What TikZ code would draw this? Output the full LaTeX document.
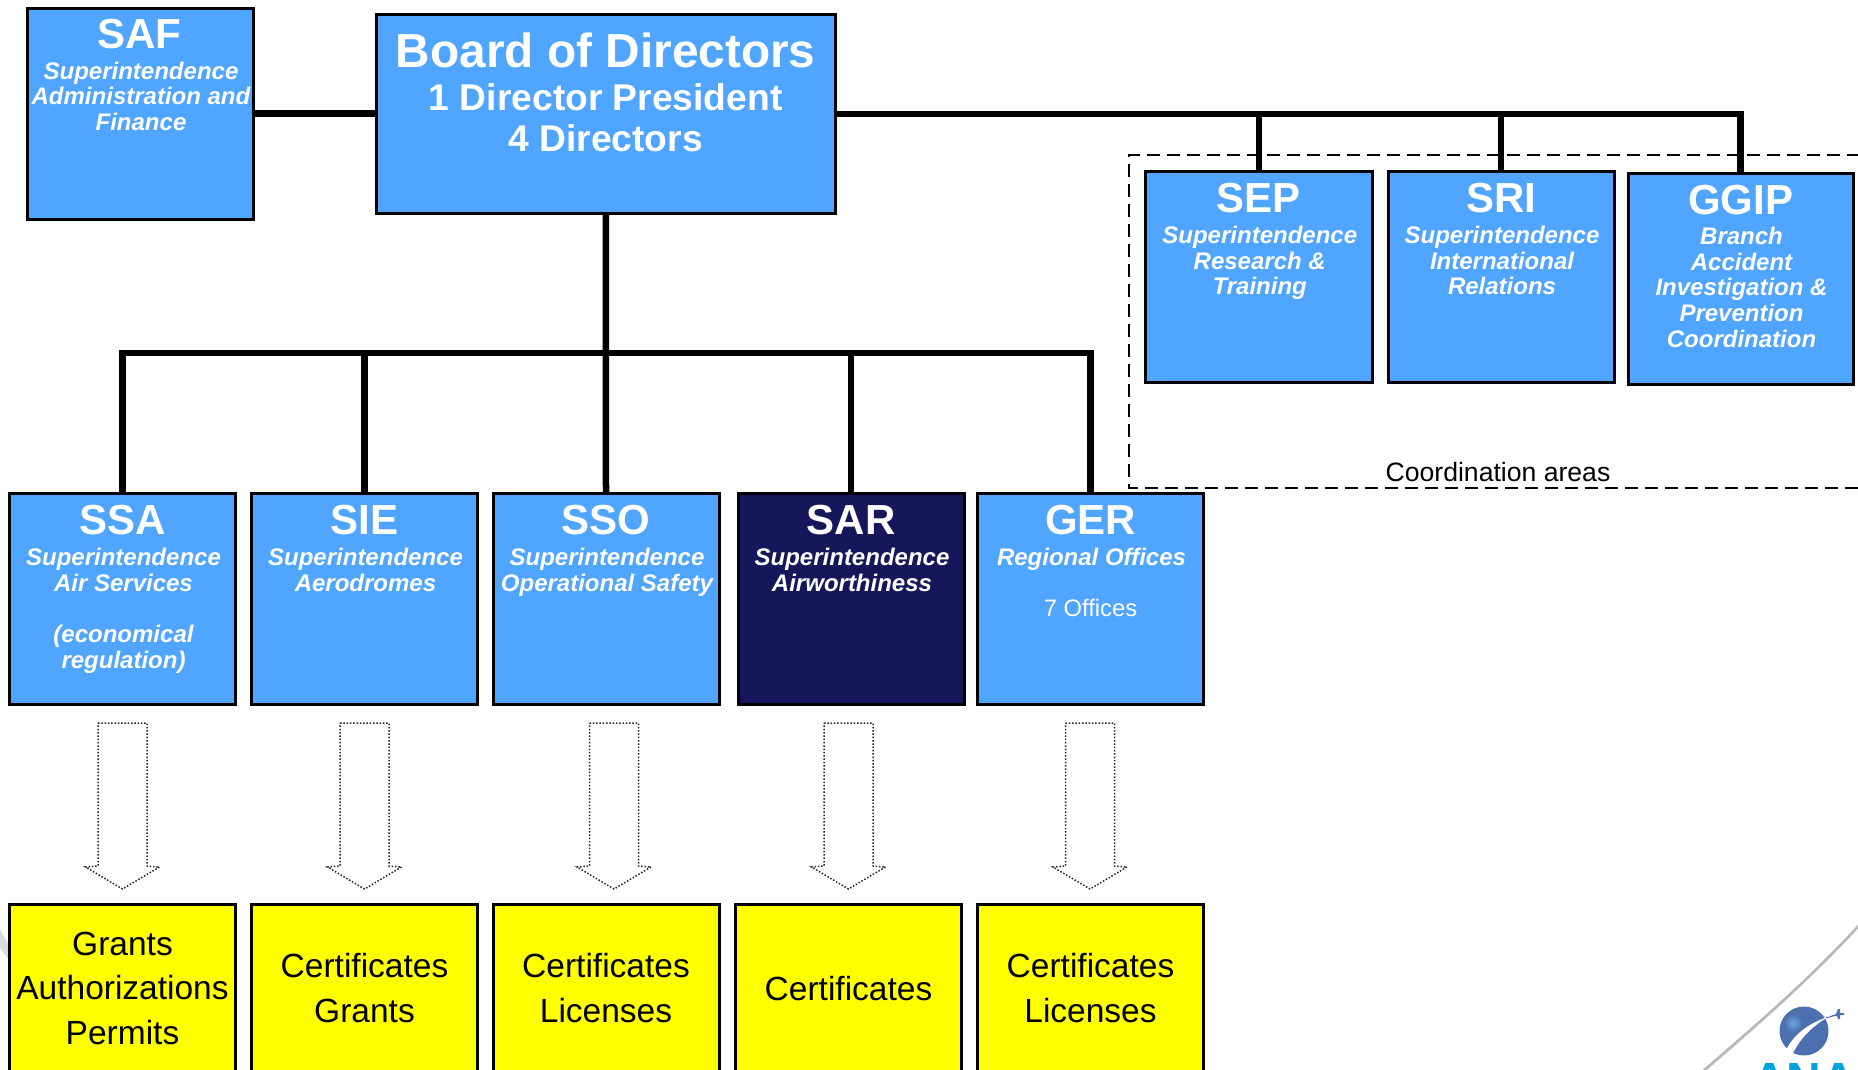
\documentclass[tikz,border=0pt]{standalone}
\usepackage{fontspec}
\setmainfont{Liberation Sans}
\definecolor{orgblue}{HTML}{4FA5FF}
\definecolor{orgnavy}{HTML}{16165A}
\definecolor{globeblue}{HTML}{4C6FB0}
\definecolor{globelight}{HTML}{6FA8DC}
\definecolor{anaccyan}{HTML}{00A3DD}
\definecolor{pureyellow}{RGB}{255,255,0}
\newcommand{\ttl}{\fontsize{42}{42}\selectfont\bfseries}
\newcommand{\subt}{\fontsize{24}{25.6}\selectfont\bfseries\itshape}
\newcommand{\topfix}{\rule{0pt}{20pt}}
\newcommand{\orgbx}[6]{\node[#6,minimum width={(#4-#2)*1pt},minimum height={(#5-#3)*1pt}] (#1) at ({(#2+#4)/2},{(#3+#5)/2}) {};}
\newcommand{\dotarrow}[1]{\draw[arrowline] (#1-24.5,723) -- (#1+24.5,723) -- (#1+24.5,866) -- (#1+37,867) -- (#1,889) -- (#1-37,867) -- (#1-24.5,866) -- cycle;}
\tikzset{
  orgbase/.style={draw=black,line width=3pt,inner sep=0pt,outer sep=0pt},
  bluebox/.style={orgbase,fill=orgblue},
  navybox/.style={orgbase,fill=orgnavy},
  yellowbox/.style={orgbase,fill=pureyellow},
  yellowtext/.style={anchor=center,inner sep=0pt,align=center,text=black,font=\fontsize{33.5}{44.5}\selectfont},
  titletext/.style={anchor=base,inner sep=0pt,text=white,font=\ttl},
  subtext/.style={anchor=north,inner sep=0pt,text=white,align=center,font=\subt},
  link/.style={line width=6.5pt,draw=black},
  arrowline/.style={line width=1.5pt,draw=black!85,dash pattern=on 1.5pt off 1.8pt},
  coordbox/.style={line width=2pt,draw=black,dash pattern=on 13pt off 7pt}
}
\begin{document}
\begin{tikzpicture}[x=1pt,y=-1pt]
\useasboundingbox (0,0) rectangle (1858,1069);
\clip (0,0) rectangle (1858,1069);
% background swoosh
\foreach \i/\g in {0/1,1/2,2/3,3/4,4/5,5/6,6/8,7/10,8/12,9/14,10/16,11/19,12/22,13/25,14/28}{
  \draw[line width=2pt,draw=black!\g,xshift=\i*0.9pt-12.6pt,yshift=\i*0.9pt-12.6pt]
    (1695,1078) .. controls (1750,1030) and (1810,980) .. (1866,918);
}
\fill[black!14] (0,930) -- (9,945) -- (9,960) -- (0,948) -- cycle;
% coordination frame
\draw[coordbox] (1880,155) -- (1128.5,155) -- (1128.5,487.5) -- (1880,487.5);
\node[anchor=base,inner sep=0pt,font=\fontsize{26.6}{30}\selectfont] (coordlabel) at (1498,481) {Coordination areas};
% boxes
\orgbx{saf}{27}{8}{253}{219}{bluebox}
\orgbx{board}{376.5}{14.5}{835}{213}{bluebox}
\orgbx{sep}{1145.5}{171.5}{1372}{382}{bluebox}
\orgbx{sri}{1388}{171.5}{1614}{382}{bluebox}
\orgbx{ggip}{1628}{173.5}{1853}{384}{bluebox}
\orgbx{ssa}{9.5}{493.5}{235.5}{704.5}{bluebox}
\orgbx{sie}{251.5}{493.5}{477.5}{704.5}{bluebox}
\orgbx{sso}{493}{493.5}{719}{704.5}{bluebox}
\orgbx{sar}{738}{493.5}{964}{704.5}{navybox}
\orgbx{ger}{977.5}{493.5}{1203.5}{704.5}{bluebox}
% connectors
\coordinate (bus) at (606,353);
\draw[link] (saf.east) -- (saf.east -| board.west);
\draw[link] (board.east) -| (ggip.north);
\draw[link] (sep.north) -- (sep.north |- board.east);
\draw[link] (sri.north) -- (sri.north |- board.east);
\draw[link] (board.south) -- (sso.north);
\draw[link,line join=miter] (ssa.north) |- (bus) -| (ger.north);
\draw[link] (sie.north) -- (sie.north |- bus);
\draw[link] (sar.north) -- (sar.north |- bus);
% box texts
\node[titletext] (saft) at ([yshift=-40pt,xshift=-1pt]saf.north) {SAF};
\node[subtext] (safs) at ([yshift=-51pt,xshift=1pt]saf.north) {\topfix Superintendence\\Administration and\\Finance};
\node[anchor=base,inner sep=0pt,text=white,font=\fontsize{47.8}{48}\selectfont\bfseries] (boardt) at ([yshift=-53pt]board.north) {Board of Directors};
\node[anchor=north,inner sep=0pt,text=white,align=center,font=\fontsize{37.2}{41}\selectfont\bfseries] (boards) at ([yshift=-68pt]board.north) {\rule{0pt}{28pt}1 Director President\\4 Directors};
\node[titletext] (sept) at ([yshift=-41pt]sep.north) {SEP};
\node[subtext] (seps) at ([yshift=-52pt,xshift=1pt]sep.north) {\topfix Superintendence\\Research \&\\Training};
\node[titletext] (srit) at ([yshift=-41pt]sri.north) {SRI};
\node[subtext] (sris) at ([yshift=-52pt,xshift=1pt]sri.north) {\topfix Superintendence\\International\\Relations};
\node[titletext] (ggipt) at ([yshift=-41pt]ggip.north) {GGIP};
\node[subtext] (ggips) at ([yshift=-51pt,xshift=1pt]ggip.north) {\topfix Branch\\Accident\\Investigation \&\\Prevention\\Coordination};
\node[titletext] (ssat) at ([yshift=-41pt]ssa.north) {SSA};
\node[subtext] (ssas) at ([yshift=-52pt,xshift=1pt]ssa.north) {\topfix Superintendence\\Air Services\\[25.6pt](economical\\regulation)};
\node[titletext] (siet) at ([yshift=-41pt]sie.north) {SIE};
\node[subtext] (sies) at ([yshift=-52pt,xshift=1pt]sie.north) {\topfix Superintendence\\Aerodromes};
\node[titletext] (ssot) at ([yshift=-41pt]sso.north) {SSO};
\node[subtext] (ssos) at ([yshift=-52pt,xshift=1pt]sso.north) {\topfix Superintendence\\Operational Safety};
\node[titletext] (sart) at ([yshift=-41pt]sar.north) {SAR};
\node[subtext] (sars) at ([yshift=-52pt,xshift=1pt]sar.north) {\topfix Superintendence\\Airworthiness};
\node[titletext] (gert) at ([yshift=-41pt]ger.north) {GER};
\node[subtext] (gers) at ([yshift=-52pt,xshift=1pt]ger.north) {\topfix Regional Offices};
\node[anchor=base,inner sep=0pt,text=white,font=\fontsize{23.8}{26}\selectfont] (gero) at ([yshift=-123pt]ger.north) {7 Offices};
% dotted arrows
\dotarrow{122.5}
\dotarrow{364.5}
\dotarrow{614}
\dotarrow{848.5}
\dotarrow{1090}
% yellow boxes
\orgbx{ya}{9.5}{904.5}{235.5}{1072}{yellowbox}
\orgbx{yb}{251.5}{904.5}{477.5}{1072}{yellowbox}
\orgbx{yc}{493}{904.5}{719}{1072}{yellowbox}
\orgbx{yd}{735.5}{904.5}{961.5}{1072}{yellowbox}
\orgbx{ye}{977.5}{904.5}{1203.5}{1072}{yellowbox}
\node[yellowtext] (yat) at (ya.center) {Grants\\Authorizations\\Permits};
\node[yellowtext] (ybt) at (yb.center) {Certificates\\Grants};
\node[yellowtext] (yct) at (yc.center) {Certificates\\Licenses};
\node[yellowtext] (ydt) at (yd.center) {Certificates};
\node[yellowtext] (yet) at (ye.center) {Certificates\\Licenses};
% logo
\fill[globeblue] (1804,1031) circle (24.5);
\shade[inner color=globelight,outer color=globeblue] (1793,1023) circle (9);
\fill[white] (1786,1050) .. controls (1795,1032) and (1812,1022) .. (1828,1017) .. controls (1814,1025) and (1801,1037) .. (1793,1053) -- cycle;
\draw[globeblue,line width=1pt] (1826,1018) -- (1836,1015);
\fill[globeblue] (1831,1016) -- (1836,1014) -- (1838,1009) -- (1840,1009) -- (1840,1013) -- (1844,1013) -- (1844,1015) -- (1840,1015) -- (1840,1019) -- (1838,1019) -- (1837,1016) -- cycle;
\node[anchor=base west,inner sep=0pt,text=anaccyan,font=\fontsize{48}{48}\selectfont\bfseries] (anac) at (1752,1096) {ANAC};
\end{tikzpicture}
\end{document}
